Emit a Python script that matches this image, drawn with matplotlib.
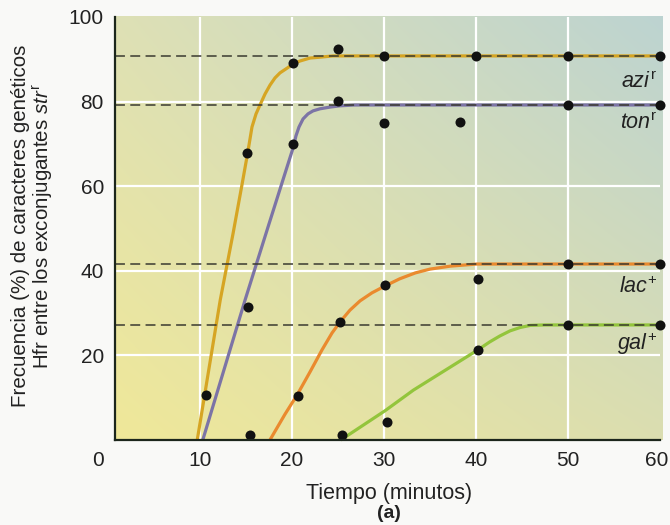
import numpy as np
import matplotlib
matplotlib.use("Agg")
import matplotlib.pyplot as plt

plt.rcParams['font.family'] = ['Liberation Sans', 'DejaVu Sans']
plt.rcParams['mathtext.fontset'] = 'custom'
plt.rcParams['mathtext.it'] = 'Liberation Sans:italic'
plt.rcParams['mathtext.rm'] = 'Liberation Sans'

# ---------------- data ----------------
x_ticks = [10, 20, 30, 40, 50, 60]
y_ticks = [20, 40, 60, 80, 100]

# measured points
azi_t = [10.7, 15.1, 20.1, 25.0, 30, 40, 50, 60]
azi_v = [10.6, 67.8, 89.1, 92.4, 90.8, 90.8, 90.8, 90.8]
ton_t = [15.2, 20.1, 25.0, 30.0, 38.3, 50, 60]
ton_v = [31.4, 70.0, 80.1, 74.9, 75.2, 79.2, 79.2]
lac_t = [15.4, 20.6, 25.2, 30.1, 40.2, 50, 60]
lac_v = [1.2, 10.4, 27.9, 36.6, 38.1, 41.6, 41.6]
gal_t = [25.4, 30.3, 40.2, 50, 60]
gal_v = [1.2, 4.3, 21.3, 27.2, 27.2]

# hand-drawn fitted curves (vertices)
azi_ct = [9.7, 10.5, 12.2, 13.6, 14.6, 15.2, 15.65, 16.09, 16.52, 17.07, 17.61,
          18.15, 18.7, 19.46, 20.11, 20.87, 21.96, 23.04, 24.46, 27, 60]
azi_cv = [0, 10.6, 33.1, 48.9, 60.8, 68.1, 74.0, 77.1, 79.2, 81.8, 83.9,
          85.6, 86.8, 87.9, 88.9, 89.6, 90.3, 90.5, 90.8, 90.8, 90.8]
ton_ct = [10.3, 14.9, 17.4, 20.11, 20.43, 20.76, 21.2, 21.74, 22.28, 23.04,
          24.13, 25.2, 26.8, 60]
ton_cv = [0, 33.1, 50.4, 69.0, 71.9, 74.0, 75.9, 77.1, 77.8, 78.3,
          78.7, 79.0, 79.2, 79.2]
lac_ct = [17.6, 19.24, 20.54, 21.96, 23.26, 24.35, 25.22, 26.3, 27.4, 28.7,
          30.1, 31.7, 33.4, 35.0, 37.2, 40.1, 60]
lac_cv = [0, 6.1, 10.6, 16.1, 21.3, 25.3, 27.9, 30.7, 32.9, 34.8,
          36.4, 38.1, 39.5, 40.4, 41.1, 41.6, 41.6]
gal_ct = [25.3, 30.1, 33.2, 40.2, 41.5, 42.6, 43.7, 44.8, 45.9, 47.5, 60]
gal_cv = [0, 6.9, 11.8, 21.3, 23.2, 24.6, 25.8, 26.6, 27.1, 27.2, 27.2]

levels = [90.8, 79.2, 41.6, 27.2]

labels = [r'$azi^{\mathrm{r}}$', r'$ton^{\mathrm{r}}$', r'$lac^{+}$', r'$gal^{+}$']
label_v = [84.6, 74.9, 36.2, 22.7]

colors = ['#d6a523', '#7c74a6', '#ea8a2e', '#93c53c']

# ---------------- figure ----------------
fig = plt.figure(figsize=(6.7, 5.25), dpi=100)
fig.patch.set_facecolor('#f9f9f7')
ax = fig.add_axes([115 / 670, 85 / 525, 545 / 670, 423 / 525])
x0, x1 = 0.76, 60
ax.set_xlim(x0, x1)
ax.set_ylim(0, 100)

# background gradient (corner colours)
tl = np.array([0.87, 0.88, 0.71])
tr = np.array([0.74, 0.83, 0.82])
bl = np.array([0.94, 0.91, 0.60])
br = np.array([0.86, 0.87, 0.69])
u = np.linspace(0, 1, 200)[None, :, None]
v = np.linspace(0, 1, 160)[:, None, None]
grad = (1 - v) * ((1 - u) * tl + u * tr) + v * ((1 - u) * bl + u * br)
ax.imshow(grad, extent=[x0, 60.25, 0, 100], aspect='auto', zorder=0,
          interpolation='bilinear', clip_on=False)

# grid
for xt in x_ticks[:-1]:
    ax.axvline(xt, color='white', lw=1.6, zorder=1)
for yt in y_ticks[:-1]:
    ax.axhline(yt, color='white', lw=1.6, zorder=1)

# curves
for ct, cv, c in zip([azi_ct, ton_ct, lac_ct, gal_ct],
                     [azi_cv, ton_cv, lac_cv, gal_cv], colors):
    ax.plot(ct, cv, color=c, lw=2.3, solid_joinstyle='round',
            solid_capstyle='butt', zorder=2, clip_on=False)

# dashed levels
for lv in levels:
    ax.plot([x0, x1], [lv, lv], color='#3a3a30', lw=1.1,
            dashes=(6.5, 3.5), zorder=3, clip_on=False)

# points
for pt, pv in zip([azi_t, ton_t, lac_t, gal_t], [azi_v, ton_v, lac_v, gal_v]):
    ax.scatter(pt, pv, s=52, color='#111111', zorder=4, clip_on=False,
               linewidths=0)

# series labels
for lab, lv in zip(labels, label_v):
    ax.text(59.7, lv, lab, ha='right', va='center', fontsize=15.5,
            color='#222222', zorder=5)

# axes styling
for s in ['top', 'right']:
    ax.spines[s].set_visible(False)
for s in ['left', 'bottom']:
    ax.spines[s].set_color('#1c261c')
    ax.spines[s].set_linewidth(1.6)
    ax.spines[s].set_zorder(6)
ax.set_xticks(x_ticks)
ax.set_xticklabels([str(t) for t in x_ticks[:-1]] + [''])
ax.set_yticks(y_ticks)
ax.tick_params(length=0, labelsize=15, colors='#222222')
ax.tick_params(axis='x', pad=8)
ax.tick_params(axis='y', pad=8)
ax.text(-1.1, -4.9, '0', ha='center', va='center', fontsize=15,
        color='#222222', clip_on=False)
ax.text(x_ticks[-1] - 0.35, -4.9, str(x_ticks[-1]), ha='center', va='center',
        fontsize=15, color='#222222', clip_on=False)

fig.text(389 / 670, 1 - 493 / 525, 'Tiempo (minutos)', ha='center',
         va='center', fontsize=15.5, color='#222222')
fig.text(389 / 670, 1 - 514 / 525, '(a)', ha='center', va='center',
         fontsize=14, fontweight='bold', color='#222222')
fig.text(33 / 670, 1 - 226 / 525,
         'Frecuencia (%) de caracteres genéticos\n'
         r'Hfr entre los exconjugantes $str^{\mathrm{r}}$',
         rotation=90, ha='center', va='center', multialignment='center',
         fontsize=14.8, color='#222222', linespacing=1.1)

fig.savefig('out.png', dpi=100, facecolor=fig.get_facecolor())
